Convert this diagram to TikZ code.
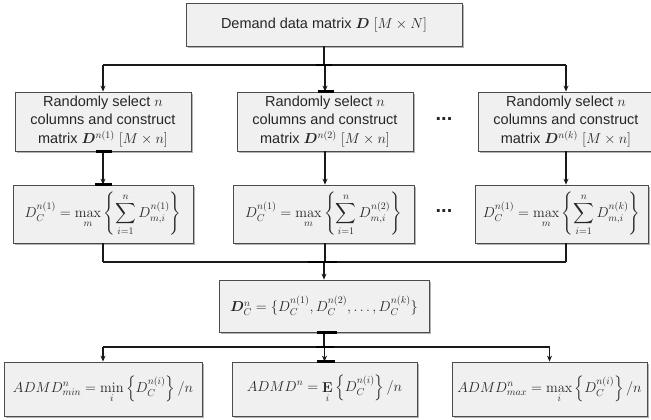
\documentclass[tikz,border=0pt]{standalone}
\usepackage{amsmath,bm}
\usepackage[no-math]{fontspec}
\setmainfont{Liberation Sans}
\usetikzlibrary{arrows.meta,shadows,calc}
\begin{document}
\begin{tikzpicture}[x=1pt,y=-1pt,
  box/.style={draw=black!70, fill=black!6, line width=0.8pt, align=center, inner sep=0pt,
    font=\fontsize{14.5}{18.5}\selectfont, text=black!85,
    drop shadow={shadow xshift=2pt, shadow yshift=-2pt, fill=black!50, opacity=0.6}},
  conn/.style={draw=black!90, line width=1.2pt},
  arr/.style={conn, -{Stealth[length=6pt,width=5pt]}},
  tick/.style={line width=2.6pt, black},
  dotsty/.style={font=\fontsize{20}{20}\selectfont\bfseries, text=black!85, inner sep=0pt}
]
\useasboundingbox (0,0) rectangle (651,420);

% row 1
\node[box, minimum width=276pt, minimum height=43pt] (top) at (324,24.5)
  {Demand data matrix $\bm{D}$ $[M\times N]$};

% row 2
\node[box, minimum width=176pt, minimum height=59pt] (r2a) at (103,121.5)
  {Randomly select $n$\\columns and construct\\matrix $\bm{D}^{n(1)}$ $[M\times n]$};
\node[box, minimum width=176pt, minimum height=59pt] (r2b) at (325,121.5)
  {Randomly select $n$\\columns and construct\\matrix $\bm{D}^{n(2)}$ $[M\times n]$};
\node[box, minimum width=176pt, minimum height=59pt] (r2c) at (566,121.5)
  {Randomly select $n$\\columns and construct\\matrix $\bm{D}^{n(k)}$ $[M\times n]$};
\node[dotsty] (d1) at (444,119) {...};

% row 3
\node[box, minimum width=180pt, minimum height=58pt] (r3a) at (103,214)
  {$\displaystyle D_C^{n(1)}=\max_m\left\{\sum_{i=1}^{n} D_{m,i}^{n(1)}\right\}$};
\node[box, minimum width=181pt, minimum height=58pt] (r3b) at (323.5,214)
  {$\displaystyle D_C^{n(1)}=\max_m\left\{\sum_{i=1}^{n} D_{m,i}^{n(2)}\right\}$};
\node[box, minimum width=173pt, minimum height=58pt] (r3c) at (561.5,214)
  {$\displaystyle D_C^{n(1)}=\max_m\left\{\sum_{i=1}^{n} D_{m,i}^{n(k)}\right\}$};
\node[dotsty] (d2) at (444,211) {...};

% row 4
\node[box, minimum width=210pt, minimum height=52pt] (dc) at (324,306)
  {$\bm{D}_C^{n}=\{D_C^{n(1)},D_C^{n(2)},\ldots,D_C^{n(k)}\}$};

% row 5
\node[box, minimum width=198pt, minimum height=54pt] (b1) at (103,389)
  {$\displaystyle ADMD_{min}^{n}=\min_i\left\{D_C^{n(i)}\right\}/n$};
\node[box, minimum width=185pt, minimum height=54pt] (b2) at (324.5,389)
  {$\displaystyle ADMD^{n}=\mathop{\mathbf{E}}_i\left\{D_C^{n(i)}\right\}/n$};
\node[box, minimum width=195pt, minimum height=54pt] (b3) at (549.5,389)
  {$\displaystyle ADMD_{max}^{n}=\max_i\left\{D_C^{n(i)}\right\}/n$};

% junction coordinates
\coordinate (j1) at (324,65);
\coordinate (j2) at (324,262);
\coordinate (j3) at (324,347);

% top -> row 2
\draw[conn] (top.south) -- (top.south |- j1);
\draw[conn] (r2a.north |- j1) -- (r2c.north |- j1);
\draw[arr] (r2a.north |- j1) -- (r2a.north);
\draw[arr] (r2b.north |- j1) -- (r2b.north);
\draw[arr] (r2c.north |- j1) -- (r2c.north);

% row 2 -> row 3
\draw[arr] (r2a.south) -- (r2a.south |- r3a.north);
\draw[arr] (r2b.south) -- (r2b.south |- r3b.north);
\draw[arr] (r2c.south) -- (r2c.south |- r3c.north);

% row 3 -> dc
\draw[conn] (r2a.south |- r3a.south) -- (r2a.south |- j2);
\draw[conn] (r2b.south |- r3b.south) -- (r2b.south |- j2);
\draw[conn] (r2c.south |- r3c.south) -- (r2c.south |- j2);
\draw[conn] (r2a.south |- j2) -- (r2c.south |- j2);
\draw[arr] (dc.north |- j2) -- (dc.north);

% dc -> bottom
\draw[conn] (dc.south) -- (dc.south |- j3);
\draw[conn] (b1.north |- j3) -- (b3.north |- j3);
\draw[arr] (b1.north |- j3) -- (b1.north);
\draw[arr] (b2.north |- j3) -- (b2.north);
\draw[arr] (b3.north |- j3) -- (b3.north);

% thick junction marks
\draw[tick] ($(j1)+(-8,0)$) -- ($(j1)+(8,0)$);
\draw[tick] ($(r2b.north)+(-7,0)$) -- ($(r2b.north)+(9,0)$);
\draw[tick] ($(r2a.south)+(-7,0)$) -- ($(r2a.south)+(9,0)$);
\draw[tick] ($(r3a.north)+(-8,0)$) -- ($(r3a.north)+(9,0)$);
\draw[tick] ($(j2)+(-16,0)$) -- ($(j2)+(13,0)$);
\draw[tick] ($(dc.south)+(-7,0)$) -- ($(dc.south)+(13,0)$);
\draw[tick] ($(j3)+(-8,0)$) -- ($(j3)+(10,0)$);
\draw[tick] ($(b2.north)+(-8,0)$) -- ($(b2.north)+(10,0)$);
\end{tikzpicture}
\end{document}
